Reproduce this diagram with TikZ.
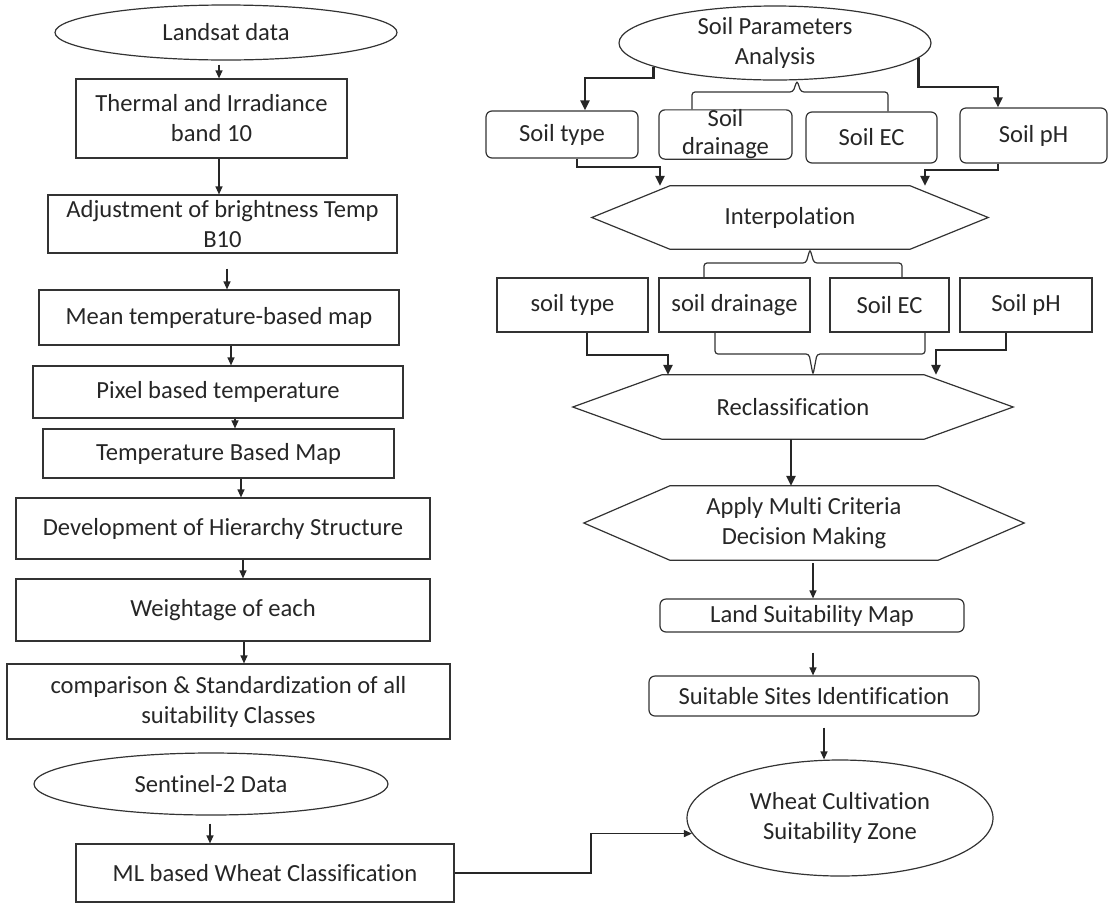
\documentclass[tikz,border=0pt]{standalone}
\usepackage{fontspec}
\setmainfont{Carlito}[Ligatures=NoCommon]
\usetikzlibrary{shapes,arrows.meta,calc}

\begin{document}
\begin{tikzpicture}[x=1pt,y=1pt,
box/.style={draw=black!80, text=black!85, line width=1.2pt, inner sep=2pt,
align=center, font=\fontsize{24.6}{30}\selectfont},
rbox/.style={box, rounded corners=6pt},
oval/.style={box, shape=ellipse, inner sep=0pt},
hexa/.style={text=black!85, inner sep=0pt, align=center, font=\fontsize{24.6}{30}\selectfont},
arr/.style={draw=black!85, line width=1.2pt, -{Triangle[length=8pt,width=7pt]}},
tarr/.style={draw=black!85, line width=2.4pt, -{Triangle[length=10pt,width=9pt]}},
brc/.style={draw=black!80, line width=1.2pt, rounded corners=3pt}]
\useasboundingbox (0,0) rectangle (1115,-903);
% left column
\node[oval, minimum width=342, minimum height=55] (landsat) at (226,-32.5) {Landsat data};
\node[box, minimum width=271, minimum height=79] (thermal) at (211.5,-118.5) {Thermal and Irradiance\\band 10};
\node[box, minimum width=349, minimum height=58] (adjust) at (222.5,-224) {Adjustment of brightness Temp\\B10};
\node[box, minimum width=360, minimum height=55] (meantemp) at (219,-317.5) {Mean temperature-based map};
\node[box, minimum width=370, minimum height=52] (pixel) at (218,-392) {Pixel based temperature};
\node[box, minimum width=351, minimum height=49] (tempmap) at (218.5,-453.5) {Temperature Based Map};
\node[box, minimum width=414, minimum height=61] (hier) at (223,-528.5) {Development of Hierarchy Structure};
\node[box, minimum width=414, minimum height=62] (weight) at (223,-610) {Weightage of each};
\node[box, minimum width=443, minimum height=75] (compare) at (228.5,-701.5) {comparison \& Standardization of all\\suitability Classes};
\node[oval, minimum width=354, minimum height=62] (sentinel) at (211,-784) {Sentinel-2 Data};
\node[box, minimum width=378, minimum height=58] (mlclass) at (265,-873) {ML based Wheat Classification};
% right column
\node[oval, minimum width=312, minimum height=74] (soilpar) at (775,-43) {Soil Parameters\\Analysis};
\node[rbox, minimum width=152, minimum height=47] (type1) at (562,-134.5) {Soil type};
\node[rbox, minimum width=133, minimum height=49, inner sep=0pt, font=\fontsize{24.6}{28}\selectfont] (drain1) at (725.5,-134.5) {Soil\\drainage};
\node[rbox, minimum width=131, minimum height=51] (ec1) at (871.5,-137.5) {Soil EC};
\node[rbox, minimum width=147, minimum height=55] (ph1) at (1033.5,-135.5) {Soil pH};
\node[hexa, minimum width=396, minimum height=63] (interp) at (790,-217.5) {Interpolation};
\node[box, minimum width=151, minimum height=54] (type2) at (572.5,-305) {soil type};
\node[box, minimum width=151, minimum height=54] (drain2) at (734.5,-305) {soil drainage};
\node[box, minimum width=119, minimum height=54] (ec2) at (889.5,-305) {Soil EC};
\node[box, minimum width=132, minimum height=54] (ph2) at (1026,-305) {Soil pH};
\node[hexa, minimum width=440, minimum height=64] (reclass) at (793,-407) {Reclassification};
\node[hexa, minimum width=440, minimum height=74] (mcdm) at (804,-523) {Apply Multi Criteria\\Decision Making};
\node[rbox, minimum width=304, minimum height=33, inner sep=0pt] (landmap) at (812,-615.5) {Land Suitability Map};
\node[rbox, minimum width=330, minimum height=40, inner sep=0pt] (sites) at (814,-696) {Suitable Sites Identification};
\node[oval, minimum width=306, minimum height=116] (wheat) at (840,-818) {Wheat Cultivation\\Suitability Zone};
% hexagons
\foreach \n/\d in {interp/78,reclass/89,mcdm/86}
  \draw[draw=black!80, line width=1.2pt] (\n.west) -- ([xshift=\d]\n.north west) -- ([xshift=-\d]\n.north east)
    -- (\n.east) -- ([xshift=-\d]\n.south east) -- ([xshift=\d]\n.south west) -- cycle;
% left arrows
\foreach \a/\b/\x/\s in {landsat/thermal/219/4, thermal/adjust/219/0, adjust/meantemp/227/15,
  meantemp/pixel/231/0, pixel/tempmap/235/0, tempmap/hier/241/0, hier/weight/243/0,
  weight/compare/244/0, sentinel/mlclass/210/8}
  \draw[arr, shorten <=\s] (\a.south -| \x,0) -- (\b.north -| \x,0);
\draw[arr] (mlclass.east) -- (591,-873) |- (wheat.186);
% soil parameters
\draw[tarr] (soilpar.191) |- (585,-78) -- (type1.north -| 585,0);
\draw[tarr] (soilpar.-6.6) |- (998,-87) -- (ph1.north -| 998,0);
\draw[brc] (drain1.north -| 692,0) -- (692,-92) -- (793,-92) -- (soilpar.south -| 797,0)
  -- (801,-92) -- (888,-92) -- (ec1.north -| 888,0);
\draw[tarr] (type1.south -| 577,0) |- (660,-167) -- (interp.north -| 660,0);
\draw[tarr] (ph1.south -| 998,0) |- (925,-170) -- (interp.north -| 925,0);
\draw[brc] (drain2.north -| 704,0) -- (704,-263) -- (806,-263) -- (interp.south -| 810,0)
  -- (814,-263) -- (902,-263) -- (ec2.north -| 902,0);
\draw[brc] (drain2.south -| 715,0) -- (715,-354) -- (809,-354) -- (reclass.north -| 813,0)
  -- (817,-354) -- (925,-354) -- (ec2.south -| 925,0);
\draw[tarr] (type2.south -| 587,0) |- (668,-355) -- (reclass.north -| 668,0);
\draw[tarr] (ph2.south -| 1006,0) |- (936,-350) -- (reclass.north -| 936,0);
\draw[tarr] (reclass.south -| 791,0) -- (mcdm.north -| 791,0);
\draw[arr, shorten <=3] (mcdm.south -| 813,0) -- (landmap.north -| 813,0);
\draw[arr, shorten <=20] (landmap.south -| 813,0) -- (sites.north -| 813,0);
\draw[arr, shorten <=11] (sites.south -| 824,0) -- (wheat.north -| 824,0);
\end{tikzpicture}
\end{document}
